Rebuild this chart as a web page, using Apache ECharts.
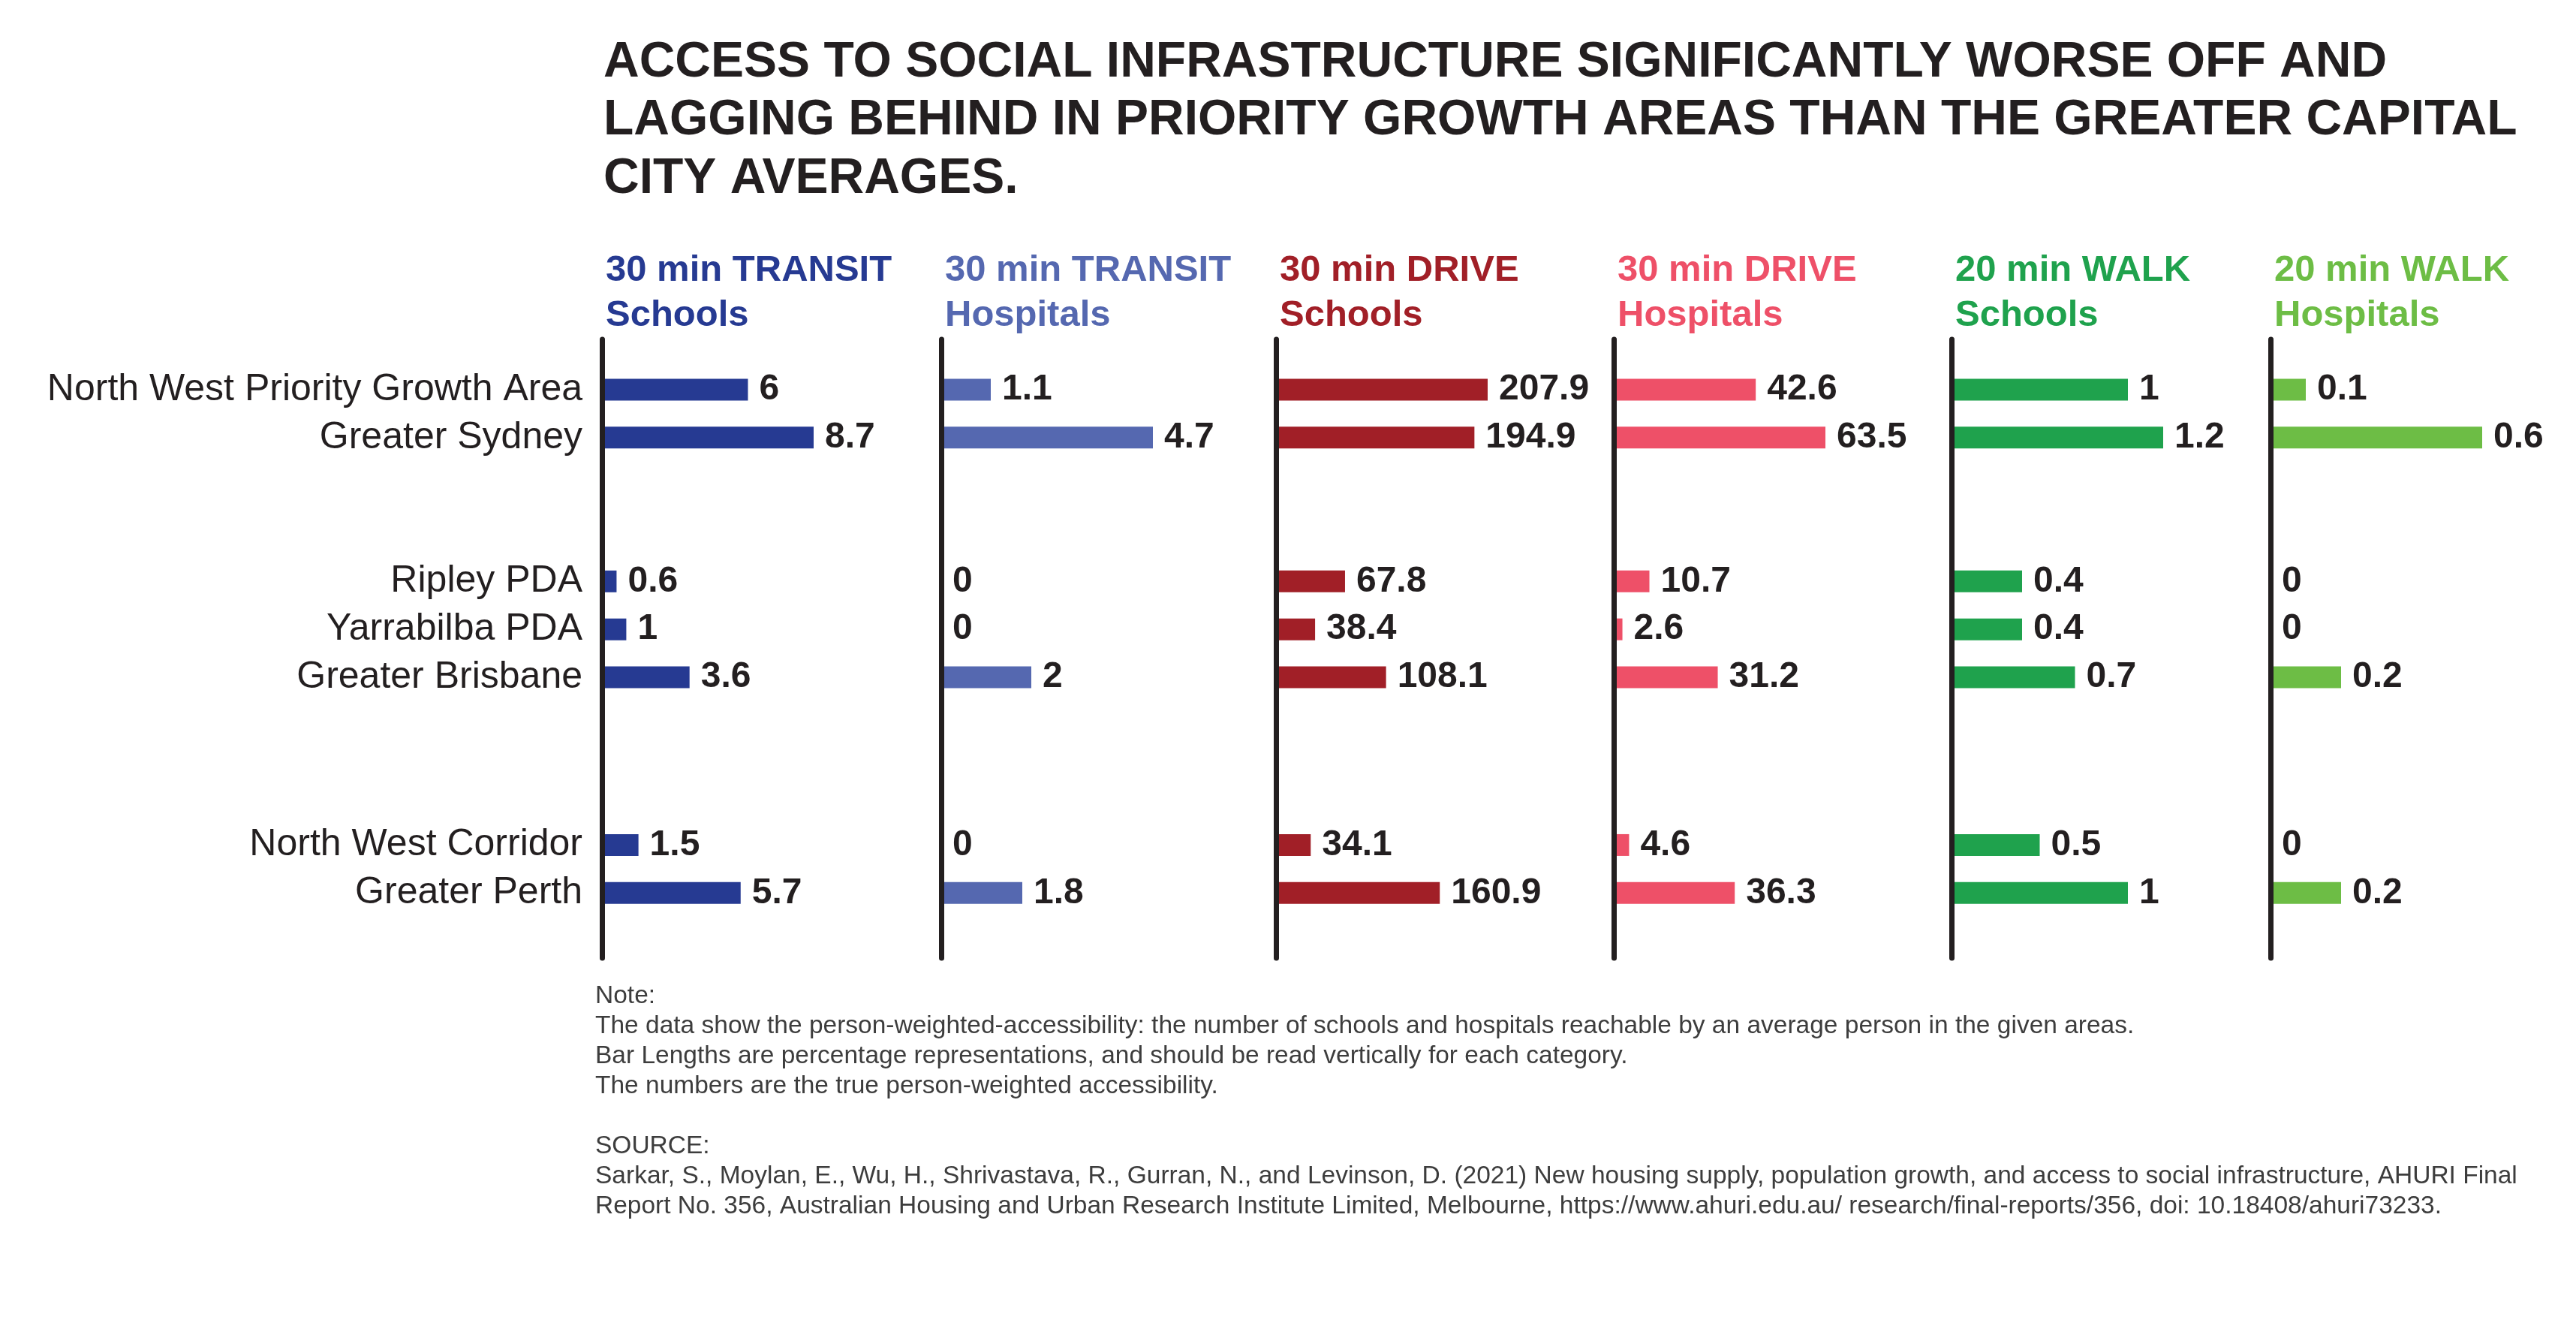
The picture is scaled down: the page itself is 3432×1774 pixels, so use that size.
<!DOCTYPE html>
<html>
<head>
<meta charset="utf-8">
<script src="https://cdn.jsdelivr.net/npm/echarts@6/dist/echarts.min.js"></script>
<style>
html,body{margin:0;padding:0;background:#ffffff;}
#chart{width:3432px;height:1774px;}
</style>
</head>
<body>
<div id="chart"></div>
<script>
// ---------------- DATA ----------------
const categories = [
  'North West Priority Growth Area',
  'Greater Sydney',
  'Ripley PDA',
  'Yarrabilba PDA',
  'Greater Brisbane',
  'North West Corridor',
  'Greater Perth'
];
const columnModes = ['30 min TRANSIT', '30 min TRANSIT', '30 min DRIVE', '30 min DRIVE', '20 min WALK', '20 min WALK'];
const columnTargets = ['Schools', 'Hospitals', 'Schools', 'Hospitals', 'Schools', 'Hospitals'];

const transitSchools   = [6, 8.7, 0.6, 1, 3.6, 1.5, 5.7];
const transitHospitals = [1.1, 4.7, 0, 0, 2, 0, 1.8];
const driveSchools     = [207.9, 194.9, 67.8, 38.4, 108.1, 34.1, 160.9];
const driveHospitals   = [42.6, 63.5, 10.7, 2.6, 31.2, 4.6, 36.3];
const walkSchools      = [1, 1.2, 0.4, 0.4, 0.7, 0.5, 1];
const walkHospitals    = [0.1, 0.6, 0, 0, 0.2, 0, 0.2];

const titleLines = [
  'ACCESS TO SOCIAL INFRASTRUCTURE SIGNIFICANTLY WORSE OFF AND',
  'LAGGING BEHIND IN PRIORITY GROWTH AREAS THAN THE GREATER CAPITAL',
  'CITY AVERAGES.'
];
const noteLines = [
  'Note:',
  'The data show the person-weighted-accessibility: the number of schools and hospitals reachable by an average person in the given areas.',
  'Bar Lengths are percentage representations, and should be read vertically for each category.',
  'The numbers are the true person-weighted accessibility.',
  '',
  'SOURCE:',
  'Sarkar, S., Moylan, E., Wu, H., Shrivastava, R., Gurran, N., and Levinson, D. (2021) New housing supply, population growth, and access to social infrastructure, AHURI Final',
  'Report No. 356, Australian Housing and Urban Research Institute Limited, Melbourne, https://www.ahuri.edu.au/ research/final-reports/356, doi: 10.18408/ahuri73233.'
];

const columnValues = [transitSchools, transitHospitals, driveSchools, driveHospitals, walkSchools, walkHospitals];

// ---------------- LAYOUT / STYLE ----------------
const FONT = '"Liberation Sans", Arial, Helvetica, sans-serif';
const INK = '#231f20';
const COLORS = ['#263a92', '#5568b0', '#a11f27', '#ee5068', '#1fa24d', '#6dbd45'];
const AXIS_X = [802, 1254, 1700, 2150, 2600, 3025];
const BAR_MAX_PX = 282;
const ROW_SLOTS = [0, 2, 8, 10, 12, 19, 21];   // vertical slot of each category (groups separated by gaps)
const SLOT_COUNT = 22;
const SLOT_PX = 31.92;
const GRID_TOP = 503;
const AXIS_TOP = 452, AXIS_BOTTOM = 1276;

const slotNames = [];
for (let i = 0; i < SLOT_COUNT; i++) {
  const k = ROW_SLOTS.indexOf(i);
  slotNames.push(k >= 0 ? categories[k] : 'gap' + i);
}

const grids = [], xAxes = [], yAxes = [], series = [], titles = [];

titles.push({
  text: titleLines.join('\n'),
  left: 799, top: 40,
  textStyle: { fontFamily: FONT, fontWeight: 'bold', fontSize: 66, lineHeight: 77.5, color: INK }
});

columnValues.forEach((vals, c) => {
  const maxVal = Math.max(...vals);
  grids.push({ left: AXIS_X[c], top: GRID_TOP, width: BAR_MAX_PX, height: SLOT_PX * SLOT_COUNT, outerBoundsMode: 'none', containLabel: false });
  xAxes.push({ type: 'value', gridIndex: c, min: 0, max: maxVal, show: false });
  yAxes.push({
    type: 'category', gridIndex: c, data: slotNames, inverse: true,
    axisLine: { show: false }, axisTick: { show: false }, splitLine: { show: false },
    axisLabel: {
      show: c === 0, interval: 0, margin: 26,
      fontFamily: FONT, fontSize: 50, color: INK,
      formatter: v => (v.indexOf('gap') === 0 ? '' : v)
    }
  });
  const data = slotNames.map((n, i) => {
    const k = ROW_SLOTS.indexOf(i);
    return k >= 0 ? vals[k] : '-';
  });
  series.push({
    type: 'bar', xAxisIndex: c, yAxisIndex: c, data: data, barWidth: 29,
    itemStyle: { color: COLORS[c] },
    label: { show: true, position: 'right', distance: 15, fontFamily: FONT, fontWeight: 'bold', fontSize: 48, color: INK },
    silent: true, animation: false
  });
  titles.push({
    text: columnModes[c] + '\n' + columnTargets[c],
    left: AXIS_X[c], top: 325,
    textStyle: { fontFamily: FONT, fontWeight: 'bold', fontSize: 49, lineHeight: 60, color: COLORS[c] }
  });
});

// vertical axis lines (one extra grid per column)
columnValues.forEach((vals, c) => {
  const g = grids.length;
  grids.push({ left: AXIS_X[c], top: AXIS_TOP, width: 10, height: AXIS_BOTTOM - AXIS_TOP, outerBoundsMode: 'none' });
  xAxes.push({ type: 'value', gridIndex: g, min: 0, max: 1, show: false });
  yAxes.push({
    type: 'value', gridIndex: g, min: 0, max: 1, z: 10,
    axisLine: { show: true, onZero: false, lineStyle: { color: INK, width: 7 } },
    axisTick: { show: false }, axisLabel: { show: false }, splitLine: { show: false }
  });
});

titles.push({
  text: noteLines.join('\n'),
  left: 788, top: 1302,
  textStyle: { fontFamily: FONT, fontWeight: 'normal', fontSize: 33.5, lineHeight: 40, color: '#3d3d3d' }
});

const chart = echarts.init(document.getElementById('chart'), null, { renderer: 'canvas' });
chart.setOption({
  backgroundColor: '#ffffff',
  animation: false,
  title: titles,
  grid: grids,
  xAxis: xAxes,
  yAxis: yAxes,
  series: series
});
</script>
</body>
</html>
